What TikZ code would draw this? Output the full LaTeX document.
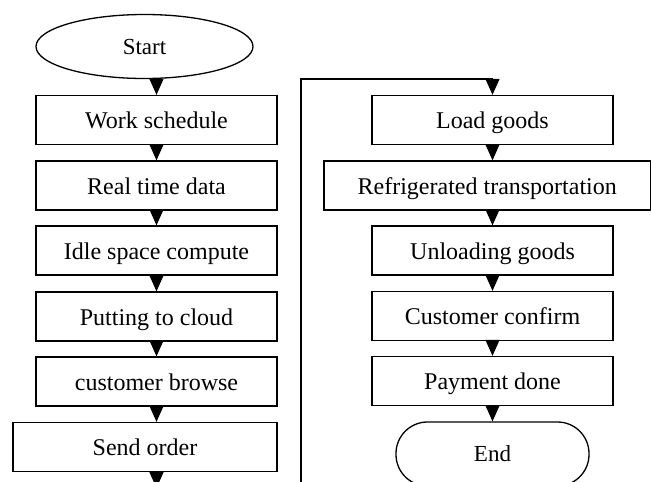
\documentclass[tikz,border=0pt]{standalone}
\usepackage{fontspec}
\setmainfont{Liberation Serif}
\usetikzlibrary{arrows.meta,shapes.geometric}
\begin{document}
\begin{tikzpicture}[x=1pt,y=-1pt,
  box/.style={draw,line width=1.3pt,rectangle,minimum height=49pt,inner sep=0pt,text height=17pt,text depth=0pt,font=\fontsize{24}{29}\selectfont},
  term/.style={draw,line width=1.3pt,inner sep=0pt,font=\fontsize{23}{28}\selectfont},
  flow/.style={line width=1.3pt,-{Triangle[length=16pt,width=14pt]}}]
\useasboundingbox (0,0) rectangle (651,482);
\clip (0,0) rectangle (651,482);
% left column
\node[term,ellipse,minimum width=217pt,minimum height=64pt] (start) at (144.5,46.5) {Start};
\node[box,minimum width=241pt] (ws) at (156.5,120) {Work schedule};
\node[box,minimum width=241pt] (rt) at (156.5,185.5) {Real time data};
\node[box,minimum width=241pt] (idle) at (156.5,250.5) {Idle space compute};
\node[box,minimum width=241pt] (cloud) at (156.5,316.5) {Putting to cloud};
\node[box,minimum width=241pt] (browse) at (156.5,381.5) {customer browse};
\node[box,minimum width=264pt] (send) at (145,447) {Send order};
% right column
\node[box,minimum width=241pt] (load) at (492.5,120) {Load goods};
\node[box,minimum width=326.5pt] (refr) at (487.25,185.5) {Refrigerated transportation};
\node[box,minimum width=241pt] (unload) at (492.5,250.5) {Unloading goods};
\node[box,minimum width=241pt] (confirm) at (492.5,316) {Customer confirm};
\node[box,minimum width=241pt] (pay) at (492.5,381) {Payment done};
\node[term,rounded corners=31.5pt,minimum width=193pt,minimum height=64pt] (end) at (492.5,454) {End};
% connectors
\draw[flow] (start.south -| ws.north) -- (ws.north);
\draw[flow] (ws.south) -- (rt.north);
\draw[flow] (rt.south) -- (idle.north);
\draw[flow] (idle.south) -- (cloud.north);
\draw[flow] (cloud.south) -- (browse.north);
\draw[flow] (browse.south) -- (browse.south |- send.north);
\coordinate (sendout) at (156.5,488);
\draw[flow] (send.south -| browse.south) -- (sendout);
\coordinate (loopbot) at (301,500);
\coordinate (looptop) at (301,79);
\draw[flow] (loopbot) -- (looptop) -- (looptop -| load.north) -- (load.north);
\draw[flow] (load.south) -- (load.south |- refr.north);
\draw[flow] (load.south |- refr.south) -- (unload.north);
\draw[flow] (unload.south) -- (confirm.north);
\draw[flow] (confirm.south) -- (pay.north);
\draw[flow] (pay.south) -- (end.north);
\end{tikzpicture}
\end{document}
